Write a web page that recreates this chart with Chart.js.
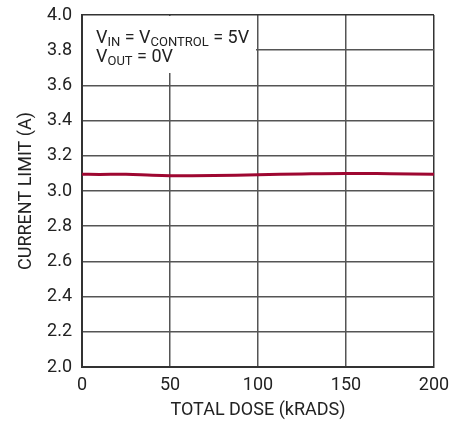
<!DOCTYPE html>
<html>
<head>
<meta charset="utf-8">
<script src="https://cdn.jsdelivr.net/npm/chart.js@4.4.0/dist/chart.umd.min.js"></script>
<style>
  html, body { margin: 0; padding: 0; background: #fff; }
  #wrap { width: 461px; height: 425px; }
</style>
</head>
<body>
<div id="wrap"><canvas id="chart" width="461" height="425"></canvas></div>
<script>
const doseKrad = [0, 10, 25, 40, 50, 75, 100, 125, 150, 175, 200]; // x values
const currentLimit = [3.095, 3.094, 3.095, 3.089, 3.087, 3.088, 3.092, 3.097, 3.100, 3.098, 3.095]; // amps
const xTicks = [0, 50, 100, 150, 200];
const yMin = 2.0, yMax = 4.0, yStep = 0.2;

const FONT = 'Roboto, "Liberation Sans", sans-serif';
const INK = "#222";
const GRID = "#555";

// Text box with subscripts in the top left corner
const noteBox = {
  id: "noteBox",
  beforeDatasetsDraw(chart) {
    const { ctx, chartArea } = chart;
    const top = chartArea.top;
    ctx.save();
    ctx.fillStyle = "#fff";
    ctx.fillRect(chartArea.left + 1, top + 1, 255 - chartArea.left, 57);

    const big = "18px " + FONT;
    const small = "13px " + FONT;
    ctx.fillStyle = INK;
    ctx.textBaseline = "alphabetic";
    const drawParts = (parts, x, y) => {
      for (const [txt, sub] of parts) {
        ctx.font = sub ? small : big;
        ctx.fillText(txt, x, sub ? y + 3 : y);
        x += ctx.measureText(txt).width;
      }
    };
    drawParts([["V", 0], ["IN", 1], [" = V", 0], ["CONTROL", 1], [" = 5V", 0]], 96, top + 28);
    drawParts([["V", 0], ["OUT", 1], [" = 0V", 0]], 96, top + 47);
    ctx.restore();
  }
};

const gridColor = (ctx) => (ctx.index === 0 || ctx.index === ctx.chart.scales[ctx.scale.id].ticks.length - 1) ? "#333" : GRID;

new Chart(document.getElementById("chart"), {
  type: "line",
  data: {
    datasets: [{
      data: doseKrad.map((x, i) => ({ x, y: currentLimit[i] })),
      borderColor: "#9e0731",
      borderWidth: 3,
      pointRadius: 0,
      tension: 0.4,
      fill: false,
    }],
  },
  plugins: [noteBox],
  options: {
    responsive: false,
    animation: false,
    layout: { padding: { left: 0, right: 27, top: 15, bottom: 0 } },
    plugins: { legend: { display: false }, tooltip: { enabled: false } },
    scales: {
      x: {
        type: "linear",
        min: 0,
        max: 200,
        afterBuildTicks: (s) => { s.ticks = xTicks.map((v) => ({ value: v })); },
        afterFit: (s) => { s.height = 58; s.paddingLeft = 0; s.paddingRight = 0; },
        grid: { color: gridColor, lineWidth: 1.5, drawTicks: false },
        border: { color: "#333", width: 2 },
        ticks: { color: INK, font: { family: FONT, size: 18 }, padding: 8, maxRotation: 0 },
        title: { display: true, text: "TOTAL DOSE (kRADS)", color: INK, font: { family: FONT, size: 18 }, padding: { top: 0, bottom: 4 } },
      },
      y: {
        min: yMin,
        max: yMax,
        afterFit: (s) => { s.width = 82; s.paddingTop = 0; s.paddingBottom = 0; },
        grid: { color: gridColor, lineWidth: 1.5, drawTicks: false },
        border: { color: "#333", width: 2 },
        ticks: { stepSize: yStep, color: INK, font: { family: FONT, size: 18 }, padding: 10, callback: (v) => v.toFixed(1) },
        title: { display: true, text: "CURRENT LIMIT (A)", color: INK, font: { family: FONT, size: 18 }, padding: { top: 16, bottom: 0 } },
      },
    },
  },
});
</script>
</body>
</html>
